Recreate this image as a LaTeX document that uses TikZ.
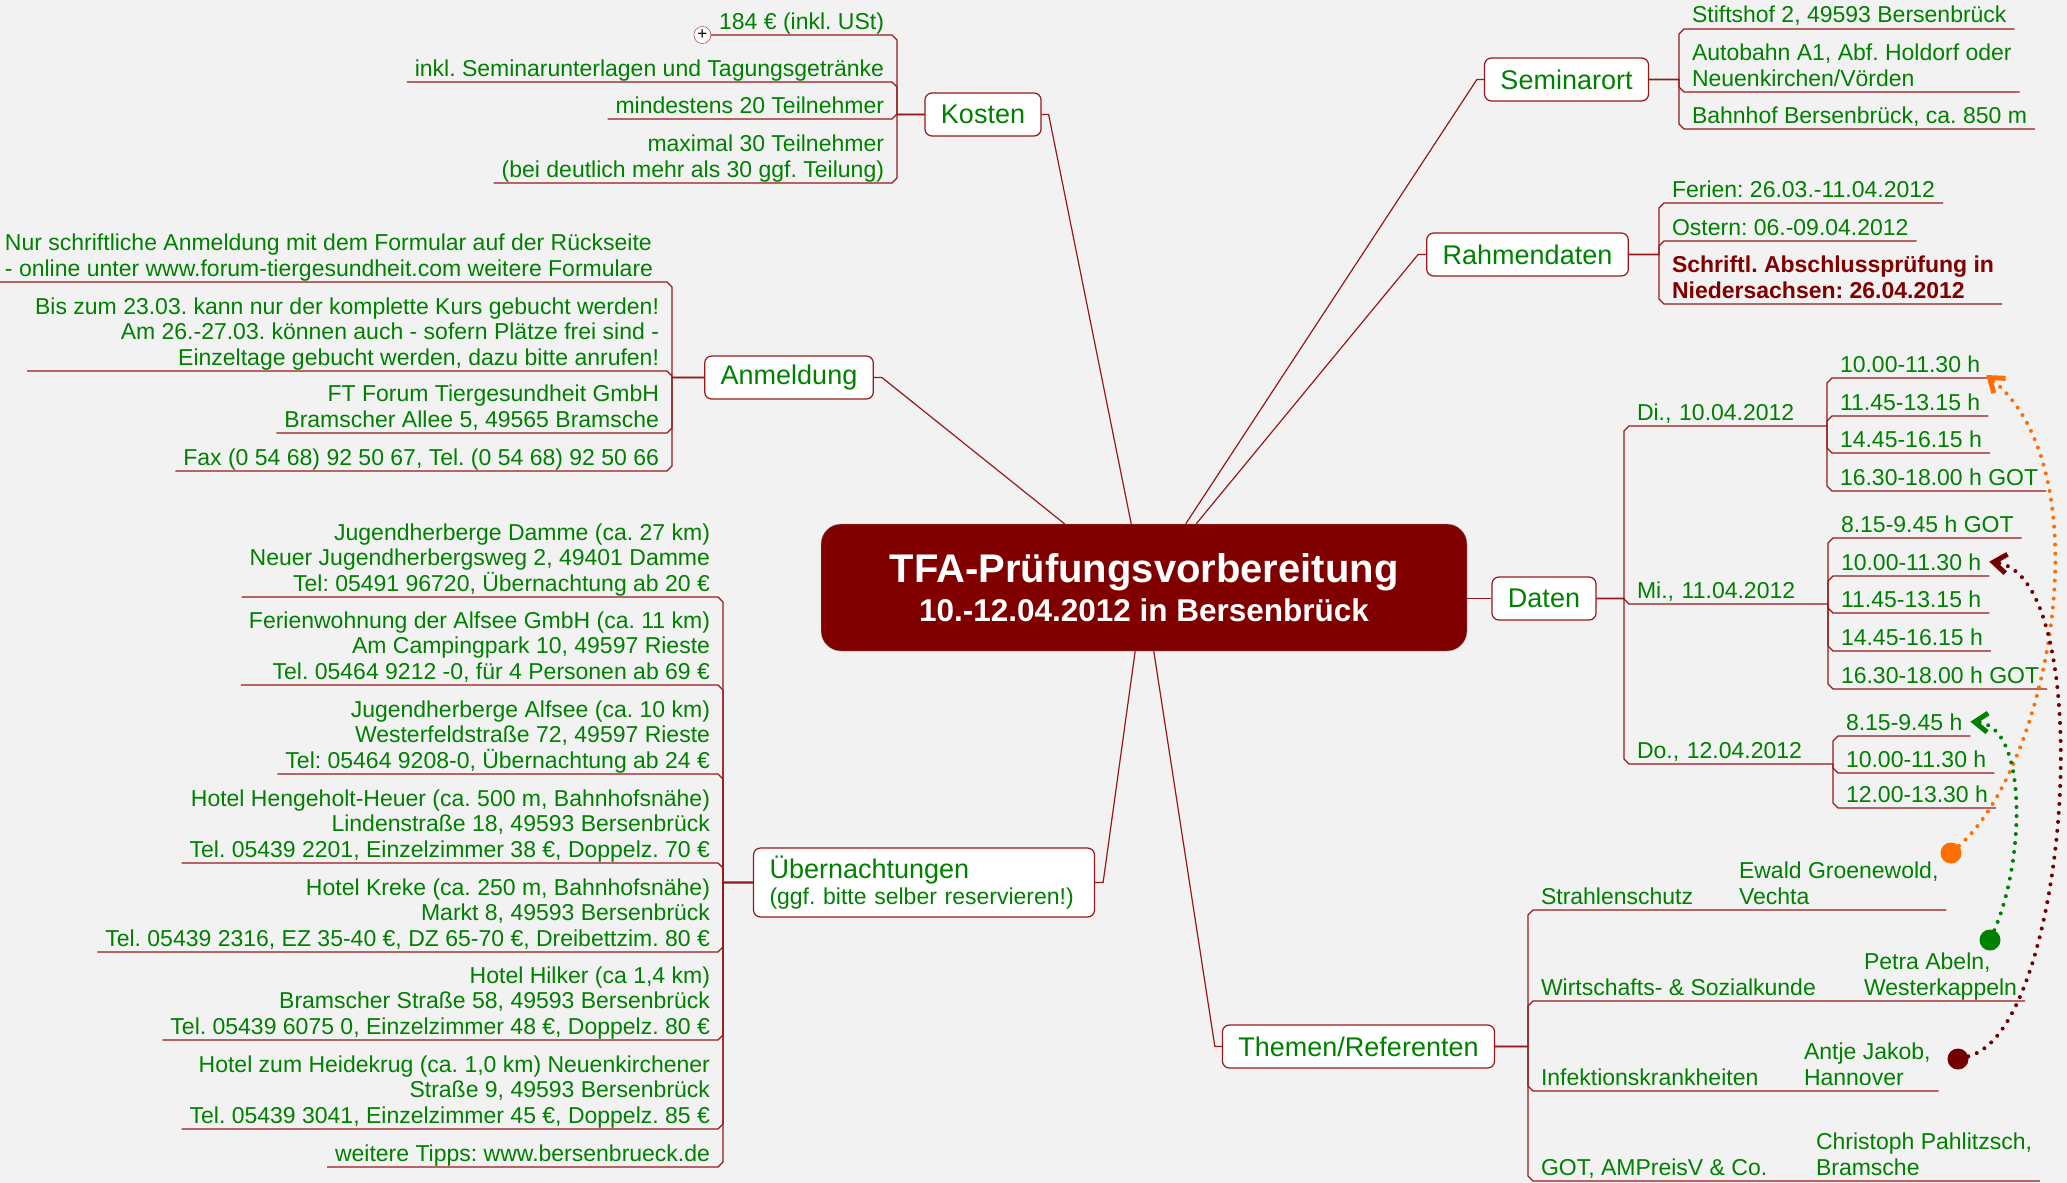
\documentclass[tikz,border=0pt]{standalone}
\usepackage{fontspec}
\setmainfont{Liberation Sans}
\usepackage{tikz}
\usetikzlibrary{arrows.meta}
\frenchspacing
\definecolor{bggray}{RGB}{242,242,242}
\definecolor{branchred}{RGB}{150,25,25}
\definecolor{titlered}{RGB}{128,0,0}
\definecolor{leafgreen}{RGB}{0,128,0}
\definecolor{linkorange}{RGB}{255,110,0}
\definecolor{linkred}{RGB}{115,0,0}
\definecolor{linkgreen}{RGB}{0,130,0}
\newcommand{\leaffont}{\fontsize{23pt}{25.5pt}\selectfont}
\newcommand{\catfont}{\fontsize{27pt}{31pt}\selectfont}
\tikzstyle{centre} = [rectangle, draw=gray!70, fill=titlered, text=white, rounded corners=20pt,
    minimum width=646pt, minimum height=127pt, align=center, font=\bfseries\fontsize{31.5pt}{39pt}\selectfont]
\tikzstyle{topic} = [rectangle, draw=branchred, line width=1.2pt, fill=white, rounded corners=7pt,
    text=leafgreen, font=\catfont, inner xsep=16pt, minimum height=43pt]
\tikzstyle{leafL} = [text=leafgreen, font=\leaffont, align=right, anchor=south east,
    inner xsep=8pt, inner ysep=6pt, text depth=0pt, outer sep=0pt]
\tikzstyle{leafR} = [leafL, align=left, anchor=south west]
\tikzstyle{branch} = [draw=branchred, line width=1.2pt]
\tikzstyle{dot} = [circle, inner sep=0pt, minimum size=21pt]
\tikzstyle{link} = [line width=4pt, dash pattern=on 0pt off 9pt, line cap=round,
    -{Straight Barb[length=13pt, width=19pt, line width=5pt]}]
\tikzstyle{plusmark} = [circle, draw=branchred, fill=white, inner sep=0pt, minimum size=17pt,
    anchor=east, text=black, font=\fontsize{17pt}{17pt}\selectfont]

\begin{document}
\begin{tikzpicture}[x=1pt, y=-1pt]
    \useasboundingbox (0,0) rectangle (2067,1183);
    \fill [bggray] (0,0) rectangle (2067,1183);

    % central topic and main branches
    \node [centre] (title) at (1144,587.5) {{\fontsize{40pt}{40pt}\selectfont TFA-Prüfungsvorbereitung}\\10.-12.04.2012 in Bersenbrück};
    \node [topic] (kosten) at (983,114.5) {Kosten};
    \node [topic] (anmeldung) at (789,377.5) {Anmeldung};
    \node [topic, font=\leaffont, text width=309pt, align=left, minimum height=69pt] (uebern) at (924,882.5) {{\catfont Übernachtungen}\\(ggf. bitte selber reservieren!)};
    \node [topic] (seminarort) at (1566.5,79.5) {Seminarort};
    \node [topic] (rahmen) at (1527.5,254.5) {Rahmendaten};
    \node [topic] (daten) at (1544,598.5) {Daten};
    \node [topic] (themen) at (1358.5,1046.5) {Themen/Referenten};

    % Kosten
    \node [leafL] (k1) at (892,35) {184 € (inkl. USt)};
    \node [plusmark] (kplus) at (k1.south west) {+};
    \node [leafL] (k2) at (892,82) {inkl. Seminarunterlagen und Tagungsgetränke};
    \node [leafL] (k3) at (892,119) {mindestens 20 Teilnehmer};
    \node [leafL] (k4) at (892,183) {maximal 30 Teilnehmer\\(bei deutlich mehr als 30 ggf. Teilung)};

    % Anmeldung
    \node [leafR, inner xsep=5pt] (a1) at (0,282) {Nur schriftliche Anmeldung mit dem Formular auf der Rückseite\\- online unter www.forum-tiergesundheit.com weitere Formulare};
    \node [leafL] (a2) at (667,371) {Bis zum 23.03. kann nur der komplette Kurs gebucht werden!\\Am 26.-27.03. können auch - sofern Plätze frei sind -\\Einzeltage gebucht werden, dazu bitte anrufen!};
    \node [leafL] (a3) at (667,433) {FT Forum Tiergesundheit GmbH\\Bramscher Allee 5, 49565 Bramsche};
    \node [leafL] (a4) at (667,471) {Fax (0 54 68) 92 50 67, Tel. (0 54 68) 92 50 66};

    % Uebernachtungen
    \node [leafL] (u1) at (718,597) {Jugendherberge Damme (ca. 27 km)\\Neuer Jugendherbergsweg 2, 49401 Damme\\Tel: 05491 96720, Übernachtung ab 20 €};
    \node [leafL] (u2) at (718,685) {Ferienwohnung der Alfsee GmbH (ca. 11 km)\\Am Campingpark 10, 49597 Rieste\\Tel. 05464 9212 -0, für 4 Personen ab 69 €};
    \node [leafL] (u3) at (718,774) {Jugendherberge Alfsee (ca. 10 km)\\Westerfeldstraße 72, 49597 Rieste\\Tel: 05464 9208-0, Übernachtung ab 24 €};
    \node [leafL] (u4) at (718,863) {Hotel Hengeholt-Heuer (ca. 500 m, Bahnhofsnähe)\\Lindenstraße 18, 49593 Bersenbrück\\Tel. 05439 2201, Einzelzimmer 38 €, Doppelz. 70 €};
    \node [leafL] (u5) at (718,952) {Hotel Kreke (ca. 250 m, Bahnhofsnähe)\\Markt 8, 49593 Bersenbrück\\Tel. 05439 2316, EZ 35-40 €, DZ 65-70 €, Dreibettzim. 80 €};
    \node [leafL] (u6) at (718,1040) {Hotel Hilker (ca 1,4 km)\\Bramscher Straße 58, 49593 Bersenbrück\\Tel. 05439 6075 0, Einzelzimmer 48 €, Doppelz. 80 €};
    \node [leafL] (u7) at (718,1129) {Hotel zum Heidekrug (ca. 1,0 km) Neuenkirchener\\Straße 9, 49593 Bersenbrück\\Tel. 05439 3041, Einzelzimmer 45 €, Doppelz. 85 €};
    \node [leafL] (u8) at (718,1167) {weitere Tipps: www.bersenbrueck.de};

    % Seminarort
    \node [leafR] (s1) at (1684,29) {Stiftshof 2, 49593 Bersenbrück};
    \node [leafR] (s2) at (1684,92) {Autobahn A1, Abf. Holdorf oder\\Neuenkirchen/Vörden};
    \node [leafR] (s3) at (1684,129) {Bahnhof Bersenbrück, ca. 850 m};

    % Rahmendaten
    \node [leafR] (r1) at (1664,203) {Ferien: 26.03.-11.04.2012};
    \node [leafR] (r2) at (1664,241) {Ostern: 06.-09.04.2012};
    \node [leafR, text=titlered, font=\leaffont\bfseries] (r3) at (1664,304) {Schriftl. Abschlussprüfung in\\Niedersachsen: 26.04.2012};

    % Daten
    \node [leafR, text width=182pt] (di) at (1629,426) {Di., 10.04.2012};
    \node [leafR, text width=183pt] (mi) at (1629,604) {Mi., 11.04.2012};
    \node [leafR, text width=188pt] (do) at (1629,764) {Do., 12.04.2012};
    \node [leafR] (diA) at (1832,378) {10.00-11.30 h};
    \node [leafR] (diB) at (1832,416) {11.45-13.15 h};
    \node [leafR] (diC) at (1832,453) {14.45-16.15 h};
    \node [leafR] (diD) at (1832,491) {16.30-18.00 h GOT};
    \node [leafR] (miA) at (1833,538) {8.15-9.45 h GOT};
    \node [leafR] (miB) at (1833,576) {10.00-11.30 h};
    \node [leafR] (miC) at (1833,613) {11.45-13.15 h};
    \node [leafR] (miD) at (1833,651) {14.45-16.15 h};
    \node [leafR] (miE) at (1833,689) {16.30-18.00 h GOT};
    \node [leafR] (doA) at (1838,736) {8.15-9.45 h};
    \node [leafR] (doB) at (1838,773) {10.00-11.30 h};
    \node [leafR] (doC) at (1838,808) {12.00-13.30 h};

    % Themen/Referenten
    \node [leafR] (thS) at (1533,910) {Strahlenschutz};
    \node [leafR] (refS) at (1731,910) {Ewald Groenewold,\\Vechta};
    \node [leafR] (thW) at (1533,1001) {Wirtschafts- \& Sozialkunde};
    \node [leafR] (refW) at (1856,1001) {Petra Abeln,\\Westerkappeln};
    \node [leafR] (thI) at (1533,1091) {Infektionskrankheiten};
    \node [leafR] (refI) at (1796,1091) {Antje Jakob,\\Hannover};
    \node [leafR] (thG) at (1533,1181) {GOT, AMPreisV \& Co.};
    \node [leafR] (refG) at (1808,1181) {Christoph Pahlitzsch,\\Bramsche};
    \node [dot, fill=linkorange] (dotS) at (1951,853) {};
    \node [dot, fill=linkgreen] (dotW) at (1990,940) {};
    \node [dot, fill=linkred] (dotI) at (1958,1059) {};

    % Draw edges
    \path [branch] (kosten.east) -- ++(7,0) -- (title);
    \path [branch] (anmeldung.east) -- ++(8,0) -- (title);
    \path [branch] (uebern.east) -- ++(8,0) -- (title);
    \path [branch] (seminarort.west) -- ++(-7,0) -- (title);
    \path [branch] (rahmen.west) -- ++(-8,0) -- (title);
    \path [branch] (themen.west) -- ++(-7,0) -- (title);
    \path [branch] (daten.west -| title.east) -- (daten.west);

    \path [branch] (kosten.west) -| ([shift={(5,5)}]k1.south east) -- (k1.south east) -- (k1.south west);
    \path [branch] (kosten.west) -| ([shift={(5,5)}]k2.south east) -- (k2.south east) -- (k2.south west);
    \path [branch] (kosten.west) -| ([shift={(5,-5)}]k3.south east) -- (k3.south east) -- (k3.south west);
    \path [branch] (kosten.west) -| ([shift={(5,-5)}]k4.south east) -- (k4.south east) -- (k4.south west);

    \path [branch] (anmeldung.west) -| ([shift={(5,5)}]a1.south -| a2.south east) -- (a1.south -| a2.south east) -- (a1.south west);
    \path [branch] (anmeldung.west) -| ([shift={(5,5)}]a2.south east) -- (a2.south east) -- (a2.south west);
    \path [branch] (anmeldung.west) -| ([shift={(5,-5)}]a3.south east) -- (a3.south east) -- (a3.south west);
    \path [branch] (anmeldung.west) -| ([shift={(5,-5)}]a4.south east) -- (a4.south east) -- (a4.south west);

    \path [branch] (uebern.west) -| ([shift={(5,5)}]u1.south east) -- (u1.south east) -- (u1.south west);
    \path [branch] (uebern.west) -| ([shift={(5,5)}]u2.south east) -- (u2.south east) -- (u2.south west);
    \path [branch] (uebern.west) -| ([shift={(5,5)}]u3.south east) -- (u3.south east) -- (u3.south west);
    \path [branch] (uebern.west) -| ([shift={(5,5)}]u4.south east) -- (u4.south east) -- (u4.south west);
    \path [branch] (uebern.west) -| ([shift={(5,-5)}]u5.south east) -- (u5.south east) -- (u5.south west);
    \path [branch] (uebern.west) -| ([shift={(5,-5)}]u6.south east) -- (u6.south east) -- (u6.south west);
    \path [branch] (uebern.west) -| ([shift={(5,-5)}]u7.south east) -- (u7.south east) -- (u7.south west);
    \path [branch] (uebern.west) -| ([shift={(5,-5)}]u8.south east) -- (u8.south east) -- (u8.south west);

    \path [branch] (seminarort.east) -| ([shift={(-5,5)}]s1.south west) -- (s1.south west) -- (s1.south east);
    \path [branch] (seminarort.east) -| ([shift={(-5,-5)}]s2.south west) -- (s2.south west) -- (s2.south east);
    \path [branch] (seminarort.east) -| ([shift={(-5,-5)}]s3.south west) -- (s3.south west) -- (s3.south east);

    \path [branch] (rahmen.east) -| ([shift={(-5,5)}]r1.south west) -- (r1.south west) -- (r1.south east);
    \path [branch] (rahmen.east) -| ([shift={(-5,5)}]r2.south west) -- (r2.south west) -- (r2.south east);
    \path [branch] (rahmen.east) -| ([shift={(-5,-5)}]r3.south west) -- (r3.south west) -- (r3.south east);

    \path [branch] (daten.east) -| ([shift={(-5,5)}]di.south west) -- (di.south west) -- (di.south east);
    \path [branch] (daten.east) -| ([shift={(-5,-5)}]mi.south west) -- (mi.south west) -- (mi.south east);
    \path [branch] (daten.east) -| ([shift={(-5,-5)}]do.south west) -- (do.south west) -- (do.south east);

    \path [branch] (di.south east) -- ([shift={(-5,5)}]diA.south west) -- (diA.south west) -- (diA.south east);
    \path [branch] (di.south east) -- ([shift={(-5,5)}]diB.south west) -- (diB.south west) -- (diB.south east);
    \path [branch] (di.south east) -- ([shift={(-5,-5)}]diC.south west) -- (diC.south west) -- (diC.south east);
    \path [branch] (di.south east) -- ([shift={(-5,-5)}]diD.south west) -- (diD.south west) -- (diD.south east);

    \path [branch] (mi.south east) -- ([shift={(-5,5)}]miA.south west) -- (miA.south west) -- (miA.south east);
    \path [branch] (mi.south east) -- ([shift={(-5,5)}]miB.south west) -- (miB.south west) -- (miB.south east);
    \path [branch] (mi.south east) -- ([shift={(-5,-5)}]miC.south west) -- (miC.south west) -- (miC.south east);
    \path [branch] (mi.south east) -- ([shift={(-5,-5)}]miD.south west) -- (miD.south west) -- (miD.south east);
    \path [branch] (mi.south east) -- ([shift={(-5,-5)}]miE.south west) -- (miE.south west) -- (miE.south east);

    \path [branch] (do.south east) -- ([shift={(-5,5)}]doA.south west) -- (doA.south west) -- (doA.south east);
    \path [branch] (do.south east) -- ([shift={(-5,-5)}]doB.south west) -- (doB.south west) -- (doB.south east);
    \path [branch] (do.south east) -- ([shift={(-5,-5)}]doC.south west) -- (doC.south west) -- (doC.south east);

    \path [branch] (themen.east) -| ([shift={(-5,5)}]thS.south west) -- (thS.south west) -- (refS.south east);
    \path [branch] (themen.east) -| ([shift={(-5,5)}]thW.south west) -- (thW.south west) -- (refW.south east);
    \path [branch] (themen.east) -| ([shift={(-5,-5)}]thI.south west) -- (thI.south west) -- (refI.south east);
    \path [branch] (themen.east) -| ([shift={(-5,-5)}]thG.south west) -- (thG.south west) -- (refG.south east);

    % speaker links
    \draw [link, linkorange] (dotS) .. controls (2050,765) and (2105,470) .. ([shift={(-2,-3)}]diA.south east);
    \draw [link, linkred] (dotI) .. controls (2070,1030) and (2100,575) .. (miB.east);
    \draw [link, linkgreen] (dotW) .. controls (2025,860) and (2028,725) .. (doA.east);
\end{tikzpicture}
\end{document}
